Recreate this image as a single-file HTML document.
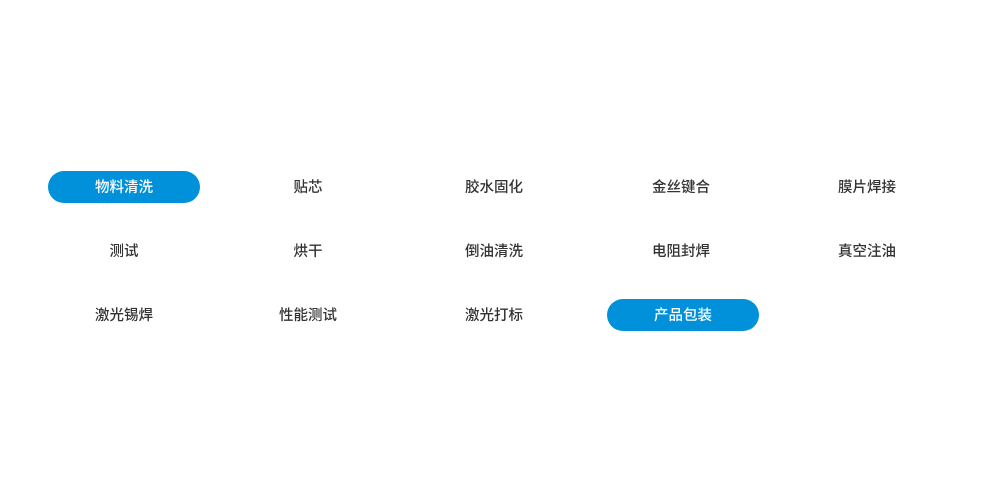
<!DOCTYPE html>
<html><head><meta charset="utf-8"><style>
body{margin:0;width:993px;height:500px;background:#fff;position:relative;overflow:hidden;font-family:"Noto Sans CJK SC",sans-serif;}
.t{position:absolute;width:152px;height:32px;line-height:32px;text-align:center;font-size:14.5px;font-weight:500;color:#333;}
.p{background:#0091da;color:#fff;border-radius:16px;}
</style></head><body>
<div class="t p" style="left:48px;top:171px">物料清洗</div>
<div class="t" style="left:232px;top:171px">贴芯</div>
<div class="t" style="left:418px;top:171px">胶水固化</div>
<div class="t" style="left:605px;top:171px">金丝键合</div>
<div class="t" style="left:791px;top:171px">膜片焊接</div>
<div class="t" style="left:48px;top:235px">测试</div>
<div class="t" style="left:232px;top:235px">烘干</div>
<div class="t" style="left:418px;top:235px">倒油清洗</div>
<div class="t" style="left:605px;top:235px">电阻封焊</div>
<div class="t" style="left:791px;top:235px">真空注油</div>
<div class="t" style="left:48px;top:299px">激光锡焊</div>
<div class="t" style="left:232px;top:299px">性能测试</div>
<div class="t" style="left:418px;top:299px">激光打标</div>
<div class="t p" style="left:607px;top:299px">产品包装</div>
</body></html>
